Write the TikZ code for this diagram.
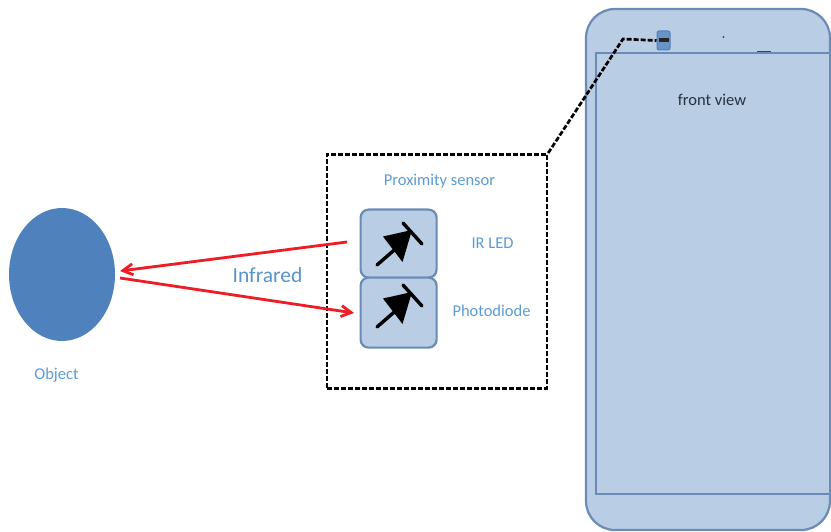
\documentclass[tikz,border=0pt]{standalone}
\usepackage{fontspec}
\setmainfont{Carlito}
\usetikzlibrary{arrows.meta,shapes.geometric}
\definecolor{lightfill}{HTML}{B9CDE5}
\definecolor{edgeblue}{HTML}{6A8BB5}
\definecolor{objblue}{HTML}{4F81BD}
\definecolor{labelblue}{HTML}{5B9BD5}
\definecolor{arrowred}{HTML}{EE1C25}
\tikzset{
  px/.style={x=1pt,y=-1pt},
  panel/.style={draw=edgeblue,fill=lightfill,line width=2.2pt},
  diodepart/.style={draw=black,line width=3.4pt,line cap=round},
  sensorlabel/.style={text=labelblue,font=\fontsize{16.5}{18}\selectfont,inner sep=0pt},
  beam/.style={draw=arrowred,line width=2.8pt,-{Straight Barb[length=10pt,width=11pt]}},
  leader/.style={draw=black,line width=2.7pt,dash pattern=on 5pt off 2pt}
}
\newcommand{\diodeicon}[1]{%
  \begin{scope}[shift={(0,#1)}]
    \draw[diodepart] (377,265) -- (400,245);
    \fill[black] (383,236.5) -- (412,230) -- (402.5,262) -- cycle;
    \draw[diodepart] (403,223) -- (422,244);
  \end{scope}}
\begin{document}
\begin{tikzpicture}[px]
\useasboundingbox (0,0) rectangle (831,532);
% phone
\draw[panel,rounded corners=29pt] (586,9) rectangle (830,530);
\node[panel,line width=2.4pt,minimum width=234pt,minimum height=441pt,inner sep=0pt,anchor=north west] (screen) at (594.5,52) {};
\node[inner sep=0pt,text=black!65!edgeblue,font=\fontsize{16.5}{18}\selectfont] (front) at (712,99.5) {front view};
\node[panel,rounded corners=2pt,fill=objblue!85,draw=objblue,line width=1pt,minimum width=13pt,minimum height=19pt,inner sep=0pt] (minisensor) at (663.5,40.5) {};
\fill[black!85] (658.5,38.5) rectangle (669,42);
\fill[black!70] (723.5,37) circle (1.2pt);
\fill[black!50!edgeblue] (757,51) rectangle (771,52.5);
% proximity sensor
\node[leader,minimum width=220pt,minimum height=234pt,inner sep=0pt,anchor=north west] (box) at (325.5,153) {};
\coordinate (bend) at (623,39);
\draw[leader] (box.north east) -- (bend) -- (minisensor.west);
\node[sensorlabel] (proxlabel) at (439.5,181.5) {Proximity sensor};
\node[panel,rounded corners=8pt,minimum width=76pt,minimum height=68pt,inner sep=0pt,anchor=north west] (led) at (359.5,208.5) {};
\node[panel,rounded corners=8pt,minimum width=76pt,minimum height=70pt,inner sep=0pt,anchor=north west] (pd) at (359.5,276.5) {};
\diodeicon{0}
\diodeicon{62}
\node[sensorlabel] (irlabel) at (492.5,243.5) {IR LED};
\node[sensorlabel] (pdlabel) at (491.5,310.5) {Photodiode};
% object
\node[fill=objblue,draw=none,ellipse,minimum width=106pt,minimum height=133pt,inner sep=0pt] (object) at (62,274.5) {};
\node[sensorlabel] (objlabel) at (56.5,375.5) {Object};
% beams
\coordinate (ledout) at (347,242);
\coordinate (objin) at (120,271);
\coordinate (objout) at (120,278);
\coordinate (pdin) at (354,313);
\draw[beam] (ledout) -- (objin);
\draw[beam] (objout) -- (pdin);
\node[text=labelblue!70!objblue,inner sep=0pt,font=\fontsize{21.5}{23}\selectfont] (ir) at (267.5,275) {Infrared};
\end{tikzpicture}
\end{document}
